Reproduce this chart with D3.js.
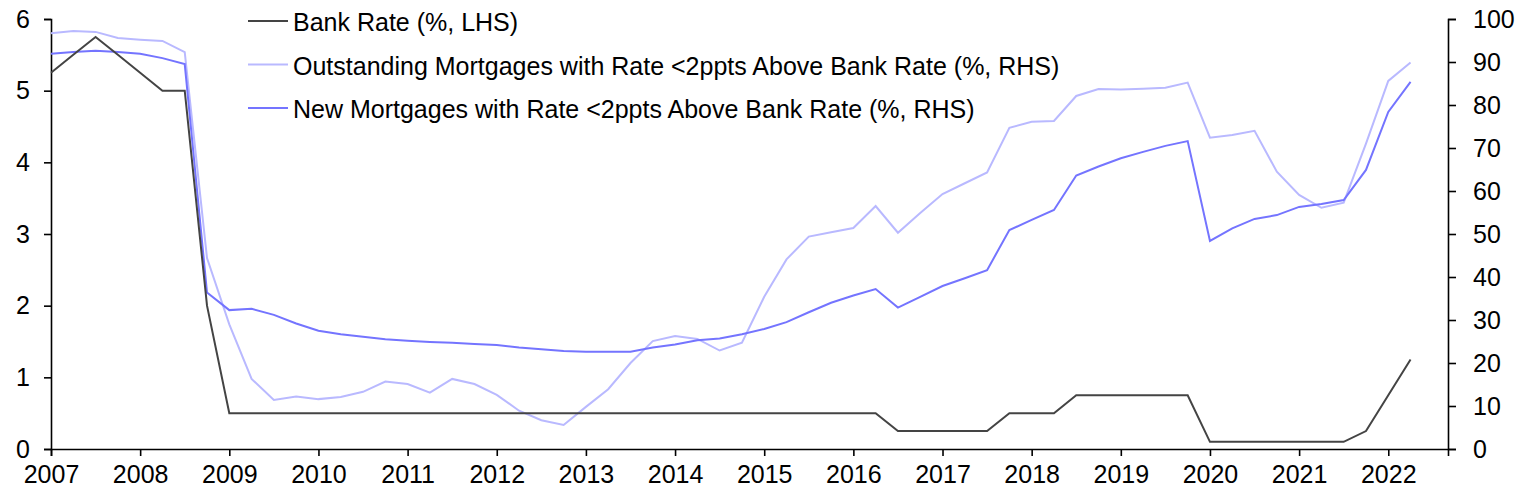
<!DOCTYPE html>
<html>
<head>
<meta charset="utf-8">
<script src="https://cdn.jsdelivr.net/npm/d3@7"></script>
<style>
  body { margin: 0; background: #fff; }
  svg { display: block; font-family: "Liberation Sans", Arial, sans-serif; }
</style>
</head>
<body>
<div id="chart"></div>
<script>
// quarterly dates, 2007Q1 .. 2022Q2
var quarters = d3.range(0, 62).map(function (i) { return 2007 + i * 0.25; });

// Bank Rate (%, LHS)
var bankRate = [5.25, 5.5, 5.75, 5.5, 5.25, 5.0, 5.0, 2.0,
  0.5, 0.5, 0.5, 0.5, 0.5, 0.5, 0.5, 0.5,
  0.5, 0.5, 0.5, 0.5, 0.5, 0.5, 0.5, 0.5,
  0.5, 0.5, 0.5, 0.5, 0.5, 0.5, 0.5, 0.5,
  0.5, 0.5, 0.5, 0.5, 0.5, 0.5, 0.25, 0.25,
  0.25, 0.25, 0.25, 0.5, 0.5, 0.5, 0.75, 0.75,
  0.75, 0.75, 0.75, 0.75, 0.1, 0.1, 0.1, 0.1,
  0.1, 0.1, 0.1, 0.25, 0.75, 1.25];

// Outstanding mortgages with rate <2ppts above Bank Rate (%, RHS)
var outstanding = [96.7, 97.2, 97.0, 95.6, 95.2, 94.9, 92.3, 44.4,
  29.0, 16.3, 11.4, 12.2, 11.6, 12.1, 13.3, 15.7,
  15.1, 13.1, 16.3, 15.1, 12.6, 8.9, 6.7, 5.6,
  9.8, 13.9, 20.0, 25.1, 26.3, 25.6, 22.9, 24.7,
  35.4, 44.1, 49.4, 50.4, 51.4, 56.5, 50.3, 54.9,
  59.3, 61.8, 64.3, 74.7, 76.1, 76.3, 82.1, 83.7,
  83.6, 83.8, 84.0, 85.2, 72.4, 73.0, 74.0, 64.5,
  59.1, 56.1, 57.3, 71.0, 85.6, 89.9];

// New mortgages with rate <2ppts above Bank Rate (%, RHS)
var newMortgages = [91.9, 92.3, 92.6, 92.3, 91.9, 90.9, 89.5, 36.4,
  32.3, 32.6, 31.2, 29.2, 27.5, 26.7, 26.1, 25.5,
  25.2, 24.9, 24.7, 24.4, 24.2, 23.6, 23.2, 22.8,
  22.6, 22.6, 22.6, 23.6, 24.3, 25.3, 25.7, 26.7,
  27.9, 29.5, 31.8, 34.0, 35.7, 37.2, 32.9, 35.4,
  37.9, 39.7, 41.6, 50.9, 53.3, 55.6, 63.6, 65.7,
  67.6, 69.1, 70.5, 71.6, 48.4, 51.3, 53.5, 54.4,
  56.3, 57.0, 57.9, 64.9, 78.4, 85.4];

var xTicks = d3.range(2007, 2023);
var leftTicks = [0, 1, 2, 3, 4, 5, 6];
var rightTicks = [0, 10, 20, 30, 40, 50, 60, 70, 80, 90, 100];

var seriesNames = ["Bank Rate (%, LHS)",
  "Outstanding Mortgages with Rate <2ppts Above Bank Rate (%, RHS)",
  "New Mortgages with Rate <2ppts Above Bank Rate (%, RHS)"];

var width = 1535, height = 492;
var margin = { top: 19, right: 87, bottom: 43, left: 51 };
var fontSize = 25;

var svg = d3.select("#chart").append("svg")
  .attr("width", width)
  .attr("height", height);

var x = d3.scaleLinear()
  .domain([2007, 2022.67])
  .range([margin.left, width - margin.right]);

var yL = d3.scaleLinear()
  .domain([0, 6])
  .range([height - margin.bottom, margin.top]);

var yR = d3.scaleLinear()
  .domain([0, 100])
  .range([height - margin.bottom, margin.top]);

// axes
var xAxis = svg.append("g")
  .attr("transform", "translate(0," + (height - margin.bottom) + ")")
  .call(d3.axisBottom(x).tickValues(xTicks).tickFormat(d3.format("d")).tickSizeOuter(0).tickSize(7).tickPadding(9));

var lAxis = svg.append("g")
  .attr("transform", "translate(" + margin.left + ",0)")
  .call(d3.axisLeft(yL).tickValues(leftTicks).tickFormat(d3.format("d")).tickSizeOuter(0).tickSize(7).tickPadding(14));

var rAxis = svg.append("g")
  .attr("transform", "translate(" + (width - margin.right) + ",0)")
  .call(d3.axisRight(yR).tickValues(rightTicks).tickSizeOuter(0).tickSize(8).tickPadding(17));

[xAxis, lAxis, rAxis].forEach(function (a) {
  a.selectAll("path, line").attr("stroke", "#000").attr("stroke-width", 1.6);
  a.selectAll("text").attr("font-size", fontSize).attr("fill", "#000")
    .attr("font-family", "'Liberation Sans', Arial, sans-serif");
});

// lines
var colors = ["#444444", "#b9b9ff", "#7474ff"];

var lineL = d3.line().x(function (d, i) { return x(quarters[i]); }).y(function (d) { return yL(d); });
var lineR = d3.line().x(function (d, i) { return x(quarters[i]); }).y(function (d) { return yR(d); });

svg.append("path").datum(outstanding)
  .attr("d", lineR).attr("fill", "none")
  .attr("stroke", colors[1]).attr("stroke-width", 2);

svg.append("path").datum(newMortgages)
  .attr("d", lineR).attr("fill", "none")
  .attr("stroke", colors[2]).attr("stroke-width", 2);

svg.append("path").datum(bankRate)
  .attr("d", lineL).attr("fill", "none")
  .attr("stroke", colors[0]).attr("stroke-width", 2);

// legend
var legend = svg.append("g").attr("transform", "translate(248,21)");
seriesNames.forEach(function (name, i) {
  var g = legend.append("g").attr("transform", "translate(0," + (i * 43.5) + ")");
  g.append("line").attr("x1", 0).attr("x2", 40).attr("y1", 0).attr("y2", 0)
    .attr("stroke", colors[i]).attr("stroke-width", 2);
  g.append("text").attr("x", 45).attr("y", 10).attr("font-size", fontSize).attr("fill", "#000")
    .text(name);
});
</script>
</body>
</html>
